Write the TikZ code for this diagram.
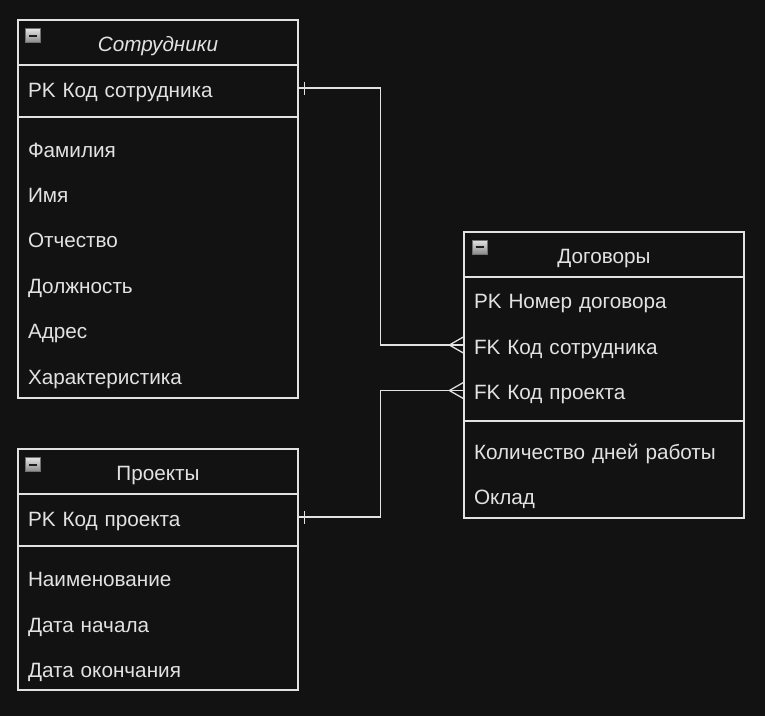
\documentclass[tikz,border=0pt]{standalone}
\usepackage{fontspec}
\setmainfont{Liberation Sans}
\definecolor{bg}{HTML}{121212}
\definecolor{fg}{HTML}{E2E2E2}
\definecolor{icontop}{HTML}{E4E4E4}
\definecolor{iconbot}{HTML}{8A8A8A}
\definecolor{iconrim}{HTML}{707070}
\definecolor{iconbar}{HTML}{1E1E1E}
\begin{document}
\begin{tikzpicture}[x=1pt,y=-1pt,line width=1.3pt,
    every node/.style={text=fg,font=\fontsize{20.7}{23}\selectfont,text height=14.8pt,text depth=0pt},
    field/.style={minimum width=280pt,text width=260pt,align=left,inner sep=0pt},
    heading/.style={inner sep=0pt}]
  \fill[bg](0,0)rectangle(765,716);
  % Сотрудники
  \draw[fg](18,20)rectangle(298,398);
  \draw[fg](18,65)--(298,65);
  \draw[fg](18,117)--(298,117);
  \draw[top color=icontop,bottom color=iconbot,draw=iconrim,line width=0.8pt](25.5,28.5)rectangle++(15,14);
  \draw[iconbar,line width=2pt](29,35.5)--++(8,0);
  \node[heading,font=\fontsize{20.7}{23}\selectfont\itshape](sotr)at(158,44){Сотрудники};
  \node[field](sotrPK)at(158,90){PK Код сотрудника};
  \foreach \y/\t in {150/Фамилия,195/Имя,240.5/Отчество,286/Должность,331.5/Адрес,377/Характеристика}
    \node[field](sotr-\y)at(158,\y){\t};
  % Проекты
  \draw[fg](18,449)rectangle(298,690);
  \draw[fg](18,494)--(298,494);
  \draw[fg](18,546)--(298,546);
  \draw[top color=icontop,bottom color=iconbot,draw=iconrim,line width=0.8pt](25.5,457.5)rectangle++(15,14);
  \draw[iconbar,line width=2pt](29,464.5)--++(8,0);
  \node[heading](proj)at(158,473){Проекты};
  \node[field](projPK)at(158,519){PK Код проекта};
  \foreach \y/\t in {579.5/Наименование,625/Дата начала,670/Дата окончания}
    \node[field](proj-\y)at(158,\y){\t};
  % Договоры
  \draw[fg](464,232)rectangle(744,518);
  \draw[fg](464,277)--(744,277);
  \draw[fg](464,421)--(744,421);
  \draw[top color=icontop,bottom color=iconbot,draw=iconrim,line width=0.8pt](472,240)rectangle++(15,14);
  \draw[iconbar,line width=2pt](475.5,247)--++(8,0);
  \node[heading](dog)at(604,256.5){Договоры};
  \node[field](dogPK)at(604,301.5){PK Номер договора};
  \node[field](dogFK1)at(604,347){FK Код сотрудника};
  \node[field](dogFK2)at(604,392.5){FK Код проекта};
  \foreach \y/\t in {452/Количество дней работы,497.5/Оклад}
    \node[field](dog-\y)at(604,\y){\t};
  % связи
  \draw[fg]([yshift=2pt]sotrPK.east)--++(82,0)|-([yshift=2pt]dogFK1.west);
  \draw[fg]([yshift=2pt]projPK.east)--++(82,0)|-([yshift=2pt]dogFK2.west);
  \draw[fg]([shift={(6pt,2pt)}]sotrPK.east)++(0,-6.5)--++(0,13);
  \draw[fg]([shift={(6pt,2pt)}]projPK.east)++(0,-6.5)--++(0,13);
  \draw[fg]([shift={(-14pt,2pt)}]dogFK1.west)--++(14,-8)([shift={(-14pt,2pt)}]dogFK1.west)--++(14,8);
  \draw[fg]([shift={(-14pt,2pt)}]dogFK2.west)--++(14,-8)([shift={(-14pt,2pt)}]dogFK2.west)--++(14,8);
\end{tikzpicture}
\end{document}
